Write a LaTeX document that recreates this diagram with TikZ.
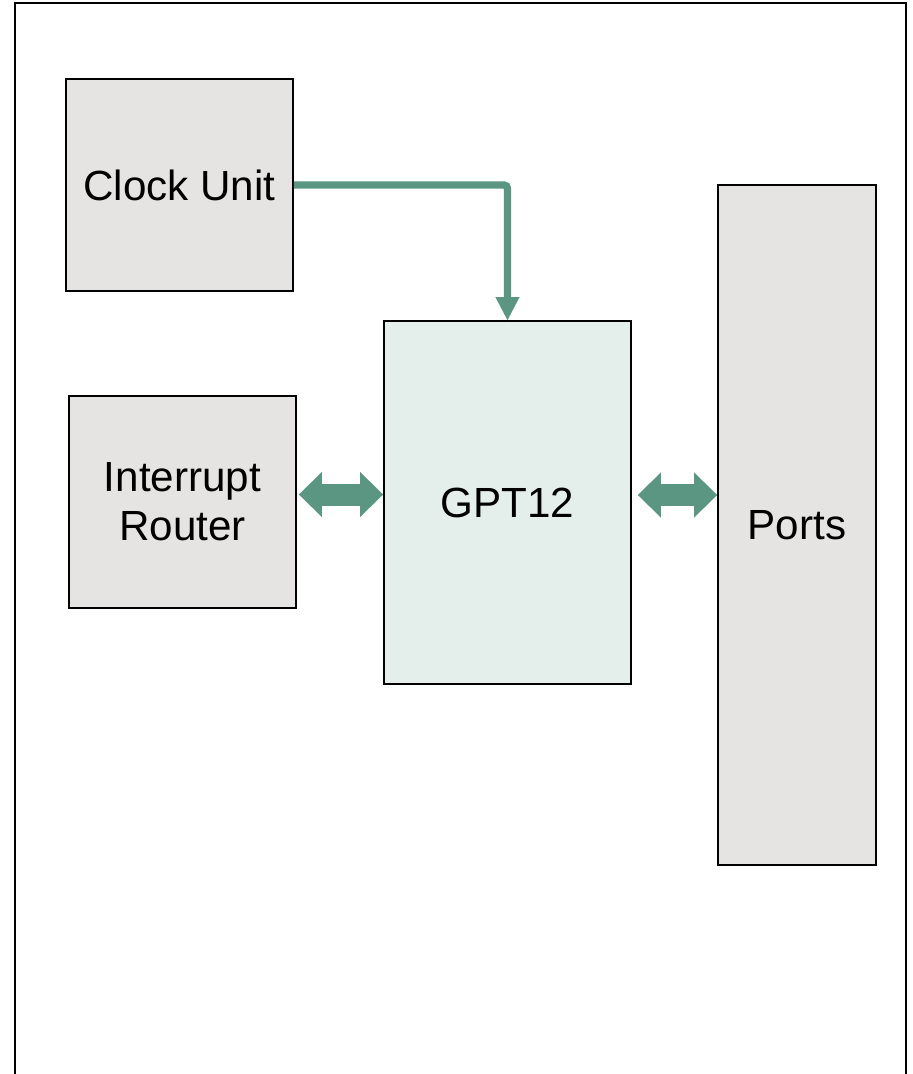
\documentclass[tikz,border=0pt]{standalone}
\usepackage{fontspec}
\setmainfont{Liberation Sans}
\usetikzlibrary{arrows.meta}
\definecolor{unitgray}{RGB}{230,228,226}
\definecolor{gptgreen}{RGB}{228,239,235}
\definecolor{linkgreen}{RGB}{90,150,130}
\tikzset{
  unitbox/.style={draw=black, line width=1.1pt, fill=unitgray, inner sep=0pt,
    align=center, font=\fontsize{24}{28}\selectfont},
  gptbox/.style={unitbox, fill=gptgreen},
  clocklink/.style={draw=linkgreen, line width=4.2pt, rounded corners=2pt,
    -{Triangle[length=0.46cm,width=0.48cm,line width=0.01pt]}},
  buslink/.style={draw=linkgreen, line width=0.44cm,
    {Triangle[length=0.46cm,width=0.90cm,line width=0.01pt]}-{Triangle[length=0.46cm,width=0.90cm,line width=0.01pt]}}
}

\begin{document}
\begin{tikzpicture}
    \useasboundingbox (0,0) rectangle (18.24,-21.48);
    % outer frame (runs off the bottom)
    \draw[line width=1.1pt] (0.30,-21.48) |- (18.12,-0.06) -- (18.12,-21.48);
    % Blocks
    \node[unitbox, minimum width=4.54cm, minimum height=4.24cm] (clock) at (3.59,-3.70) {Clock Unit};
    \node[unitbox, minimum width=4.54cm, minimum height=4.24cm] (router) at (3.65,-10.04) {Interrupt\\Router};
    \node[gptbox, minimum width=4.94cm, minimum height=7.26cm] (gpt) at (10.15,-10.05) {GPT12};
    \node[unitbox, minimum width=3.16cm, minimum height=13.6cm] (ports) at (15.94,-10.50) {Ports};
    % Connections
    \draw[clocklink] (clock.east) -| (gpt.north);
    \draw[buslink, shorten <=0.04cm] ([yshift=0.15cm]router.east) -- ([yshift=0.15cm]router.east -| gpt.west);
    \draw[buslink, shorten <=0.12cm] ([yshift=0.15cm]gpt.east) -- ([yshift=0.15cm]gpt.east -| ports.west);
\end{tikzpicture}
\end{document}
